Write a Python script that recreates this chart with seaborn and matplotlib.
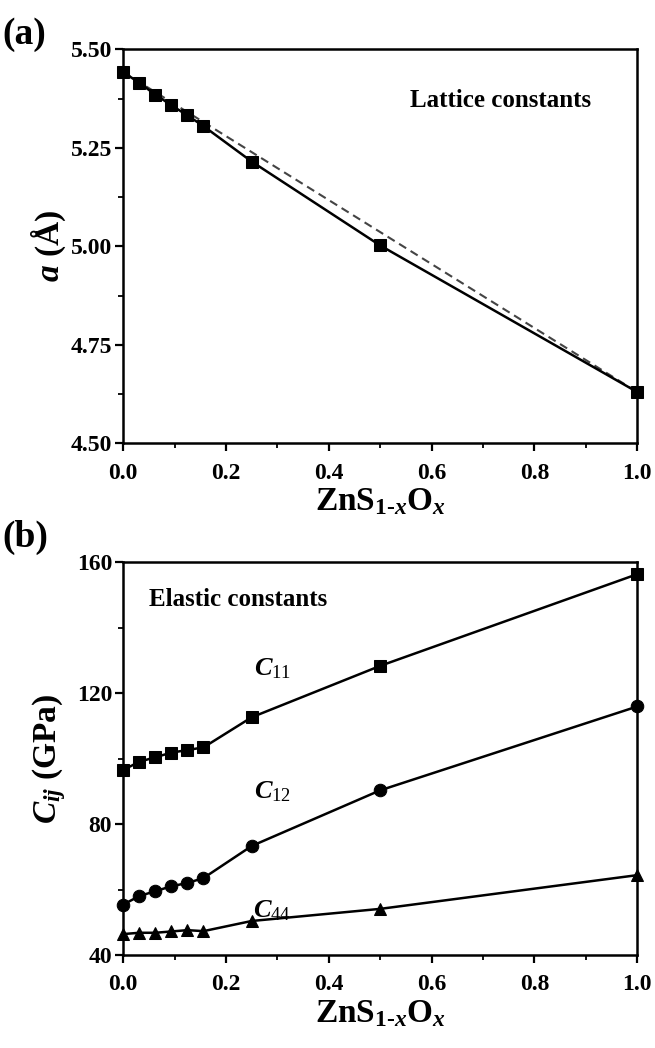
import matplotlib
matplotlib.use("Agg")
import matplotlib.pyplot as plt
import seaborn as sns
import pandas as pd
from matplotlib.ticker import MultipleLocator

# Oxygen fraction x in ZnS(1-x)O(x)
x_frac = [0.0, 0.03125, 0.0625, 0.09375, 0.125, 0.15625, 0.25, 0.5, 1.0]

# Lattice constant a (Angstrom)
lattice_a = [5.442, 5.415, 5.385, 5.358, 5.332, 5.305, 5.215, 5.002, 4.630]

# Elastic constants (GPa)
c11 = [96.5, 99.0, 100.4, 101.8, 102.6, 103.4, 112.6, 128.3, 156.3]
c12 = [55.4, 58.0, 59.5, 61.0, 62.0, 63.5, 73.3, 90.3, 115.9]
c44 = [46.4, 46.8, 46.8, 47.2, 47.6, 47.3, 50.4, 54.1, 64.4]

sns.set_theme(style="ticks")
plt.rcParams.update({
    "font.family": ["Liberation Serif", "DejaVu Serif"],
    "font.weight": "bold",
    "text.color": "black",
    "axes.labelcolor": "black",
    "axes.labelweight": "bold",
    "mathtext.fontset": "custom",
    "mathtext.rm": "Liberation Serif:bold",
    "mathtext.it": "Liberation Serif:italic:bold",
    "mathtext.bf": "Liberation Serif:bold",
    "mathtext.sf": "Liberation Serif:weight=normal",
    "axes.linewidth": 1.8,
    "xtick.major.width": 1.6,
    "ytick.major.width": 1.6,
    "xtick.minor.width": 1.3,
    "ytick.minor.width": 1.3,
    "xtick.major.size": 6,
    "ytick.major.size": 6,
    "xtick.minor.size": 3.5,
    "ytick.minor.size": 3.5,
    "xtick.major.pad": 8,
    "ytick.major.pad": 2,
    "xtick.direction": "out",
    "ytick.direction": "out",
    "xtick.color": "black",
    "ytick.color": "black",
    "axes.edgecolor": "black",
})

fig = plt.figure(figsize=(6.55, 10.48), dpi=100)
ax_a = fig.add_axes([0.188, 0.577, 0.785, 0.376])
ax_b = fig.add_axes([0.188, 0.0887, 0.785, 0.375])

tick_fs = 17
label_fs = 24

# ---- (a) lattice constants ----
df_a = pd.DataFrame({"x": x_frac, "a": lattice_a})
vegard = pd.DataFrame({"x": [x_frac[0], x_frac[-1]], "a": [lattice_a[0], lattice_a[-1]]})
sns.lineplot(data=vegard, x="x", y="a", ax=ax_a, color="#444444", lw=1.5,
             linestyle=(0, (4, 2.5)), zorder=2)
sns.lineplot(data=df_a, x="x", y="a", ax=ax_a, color="black", lw=1.8,
             marker="s", markersize=8, markeredgecolor="black", zorder=3,
             clip_on=False)
ax_a.set_xlim(0, 1.0)
ax_a.set_ylim(4.5, 5.5)
ax_a.xaxis.set_major_locator(MultipleLocator(0.2))
ax_a.xaxis.set_minor_locator(MultipleLocator(0.1))
ax_a.yaxis.set_major_locator(MultipleLocator(0.25))
ax_a.yaxis.set_minor_locator(MultipleLocator(0.125))
ax_a.set_yticks(ax_a.get_yticks())
ax_a.set_yticklabels([f"{v:.2f}" for v in ax_a.get_yticks()])
ax_a.set_xlabel(r"ZnS$_{1\text{-}x}$O$_{x}$", fontsize=label_fs, labelpad=2)
ax_a.set_ylabel(r"$a$ (Å)", fontsize=label_fs, labelpad=2)
ax_a.text(0.735, 5.37, "Lattice constants", fontsize=18, fontweight="bold",
          ha="center", va="center")

# ---- (b) elastic constants ----
df_b = pd.DataFrame({"x": x_frac * 3,
                     "C": c11 + c12 + c44,
                     "comp": ["C11"] * 9 + ["C12"] * 9 + ["C44"] * 9})
sns.lineplot(data=df_b, x="x", y="C", hue="comp", style="comp",
             palette=["black"] * 3, markers=["s", "o", "^"], dashes=False,
             markersize=9, markeredgecolor="black", lw=1.8, ax=ax_b, legend=False,
             clip_on=False)
ax_b.set_xlim(0, 1.0)
ax_b.set_ylim(40, 160)
ax_b.xaxis.set_major_locator(MultipleLocator(0.2))
ax_b.xaxis.set_minor_locator(MultipleLocator(0.1))
ax_b.yaxis.set_major_locator(MultipleLocator(40))
ax_b.yaxis.set_minor_locator(MultipleLocator(20))
ax_b.set_xlabel(r"ZnS$_{1\text{-}x}$O$_{x}$", fontsize=label_fs, labelpad=2)
ax_b.set_ylabel(r"$C_{ij}$ (GPa)", fontsize=label_fs, labelpad=6)
ax_b.text(0.05, 148.5, "Elastic constants", fontsize=18, fontweight="bold",
          ha="left", va="center")
for lab, (xl, yl) in zip([r"$C_{\mathsf{11}}$", r"$C_{\mathsf{12}}$", r"$C_{\mathsf{44}}$"],
                         [(0.29, 127.5), (0.29, 90.0), (0.29, 53.5)]):
    ax_b.text(xl, yl, lab, fontsize=19, ha="center", va="center")

for ax in (ax_a, ax_b):
    ax.tick_params(which="both", top=False, right=False, labelsize=tick_fs)
    for s in ax.spines.values():
        s.set_visible(True)

ax_a.set_xticks(ax_a.get_xticks())
ax_a.set_xticklabels([f"{v:.1f}" for v in ax_a.get_xticks()])
ax_b.set_xticks(ax_b.get_xticks())
ax_b.set_xticklabels([f"{v:.1f}" for v in ax_b.get_xticks()])
ax_b.set_yticks(ax_b.get_yticks())
ax_b.set_yticklabels([f"{int(v)}" for v in ax_b.get_yticks()])
ax_a.set_xlim(0, 1.0); ax_a.set_ylim(4.5, 5.5)
ax_b.set_xlim(0, 1.0); ax_b.set_ylim(40, 160)
for ax in (ax_a, ax_b):
    for t in ax.get_xticklabels() + ax.get_yticklabels():
        t.set_fontweight("bold")
        t.set_fontsize(tick_fs)

fig.text(0.003, 0.958, "(a)", fontsize=27, fontweight="bold", ha="left", va="baseline")
fig.text(0.003, 0.478, "(b)", fontsize=27, fontweight="bold", ha="left", va="baseline")

fig.savefig("out.png", dpi=100)
